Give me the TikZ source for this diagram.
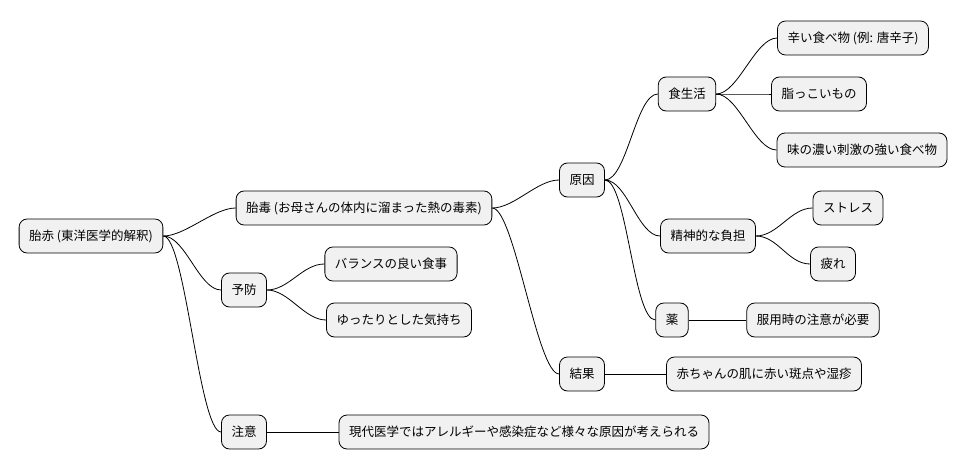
\documentclass[tikz,border=0pt]{standalone}
\usepackage{fontspec}
\setmainfont{Noto Sans CJK JP}
\begin{document}
\begin{tikzpicture}[x=1pt,y=-1pt,
  n/.style={draw=black,line width=0.8pt,fill={rgb,255:red,241;green,241;blue,241},rounded corners=8pt,minimum height=34pt,inner xsep=10pt,font=\fontsize{12.5}{14}\selectfont},
  c/.style={line width=0.8pt}]
\useasboundingbox (0,0) rectangle (967,471);
\node[n] (r) at (91,236) {胎赤 (東洋医学的解釈)};
\node[n] (td) at (364,208) {胎毒 (お母さんの体内に溜まった熱の毒素)};
\node[n] (yb) at (244,290) {予防};
\node[n] (cy) at (244,432) {注意};
\node[n] (gi) at (582,180) {原因};
\node[n] (kk) at (582,374) {結果};
\node[n] (ss) at (687,94) {食生活};
\node[n] (sf) at (708,236) {精神的な負担};
\node[n] (ku) at (672,320) {薬};
\node[n] (ak) at (764,374) {赤ちゃんの肌に赤い斑点や湿疹};
\node[n] (k1) at (853,38) {辛い食べ物 (例: 唐辛子)};
\node[n] (k2) at (819,94) {脂っこいもの};
\node[n] (k3) at (862,150) {味の濃い刺激の強い食べ物};
\node[n] (s1) at (848,208) {ストレス};
\node[n] (s2) at (833,264) {疲れ};
\node[n] (m1) at (813,320) {服用時の注意が必要};
\node[n] (y1) at (391,264) {バランスの良い食事};
\node[n] (y2) at (399,320) {ゆったりとした気持ち};
\node[n] (c1) at (524,432) {現代医学ではアレルギーや感染症など様々な原因が考えられる};
\foreach \p/\q in {r/td,r/yb,r/cy,td/gi,td/kk,gi/ss,gi/sf,gi/ku,ss/k1,ss/k2,ss/k3,sf/s1,sf/s2,yb/y1,yb/y2}
  \draw[c] (\p.east) .. controls +(22,0) and +(-22,0) .. (\q.west);
\foreach \p/\q in {kk/ak,ku/m1,cy/c1}
  \draw[c] (\p.east) -- (\q.west);
\end{tikzpicture}
\end{document}
